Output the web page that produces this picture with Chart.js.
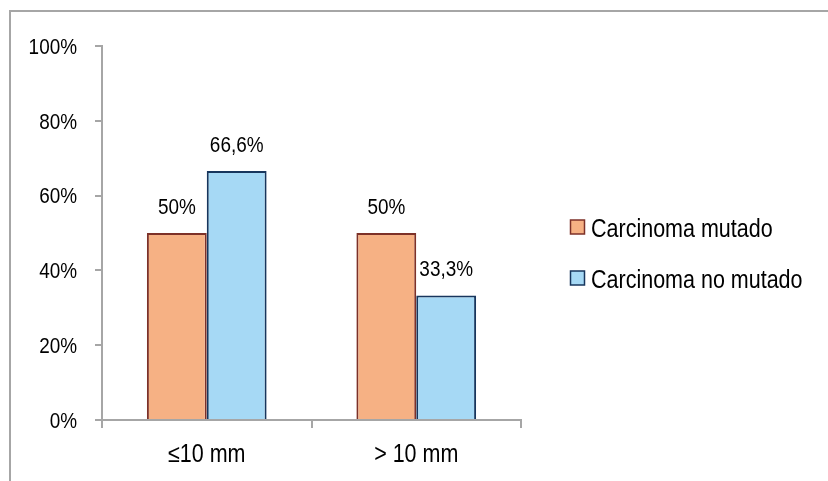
<!DOCTYPE html>
<html>
<head>
<meta charset="utf-8">
<script src="https://cdn.jsdelivr.net/npm/chart.js@4"></script>
<style>
  html, body { margin: 0; padding: 0; background: #fff; }
  #wrap { position: relative; width: 828px; height: 481px; overflow: hidden; }
  #frame { position: absolute; left: 9px; top: 10px; width: 900px; height: 600px;
           border-left: 2px solid #a6a6a6; border-top: 2px solid #a6a6a6; }
  canvas { position: absolute; left: 0; top: 0; }
</style>
</head>
<body>
<div id="wrap">
  <div id="frame"></div>
  <canvas id="myChart" width="828" height="481"></canvas>
</div>
<script>
  // datos del grafico
  const categorias = ['≤10 mm', '> 10 mm'];
  const mutado = [50, 50];
  const noMutado = [66.6, 33.3];
  const nombres = ['Carcinoma mutado', 'Carcinoma no mutado'];
  const yTicks = [0, 20, 40, 60, 80, 100];

  const fuente = "'Liberation Sans', Arial, sans-serif";
  const estrecho = 0.86; // la letra original es mas angosta

  function formato(v){
    return String(v).replace('.', ',') + '%';
  }

  // texto angosto (no hay Arial Narrow instalada)
  function texto(ctx, str, x, y, size, align){
    ctx.save();
    ctx.font = size + 'px ' + fuente;
    ctx.fillStyle = '#000';
    ctx.textAlign = align;
    ctx.textBaseline = 'alphabetic';
    ctx.translate(x, y);
    ctx.scale(estrecho, 1);
    ctx.fillText(str, 0, 0);
    ctx.restore();
  }

  // etiquetas de ejes, encima de las barras y leyenda
  const textos = {
    id: 'textos',
    afterDraw(chart){
      const ctx = chart.ctx;
      const sx = chart.scales.x;
      const sy = chart.scales.y;

      yTicks.forEach((v) => {
        texto(ctx, v + '%', 77, sy.getPixelForValue(v) + 0.358 * 22, 22, 'right');
      });
      categorias.forEach((c, i) => {
        texto(ctx, c, sx.getPixelForValue(i), 462, 25, 'center');
      });

      chart.data.datasets.forEach((ds, i) => {
        chart.getDatasetMeta(i).data.forEach((bar, j) => {
          texto(ctx, formato(ds.data[j]), bar.x, bar.y - 27 + 0.358 * 22, 22, 'center');
        });
      });

      chart.data.datasets.forEach((ds, i) => {
        const y = 227 + i * 51;
        ctx.save();
        ctx.fillStyle = ds.backgroundColor;
        ctx.fillRect(570.5, y - 7, 14, 14);
        ctx.strokeStyle = ds.borderColor;
        ctx.lineWidth = 1.5;
        ctx.strokeRect(570.5, y - 7, 14, 14);
        ctx.restore();
        texto(ctx, ds.label, 591, y + 1 + 0.358 * 25, 25, 'left');
      });
    }
  };

  const grafico = new Chart(document.getElementById('myChart'), {
    type: 'bar',
    data: {
      labels: categorias,
      datasets: [{
        label: nombres[0],
        data: mutado,
        backgroundColor: '#f6b184',
        borderColor: '#7d3128',
        borderWidth: 2,
        borderSkipped: 'bottom',
        categoryPercentage: 120 / 210,
        barPercentage: 1
      }, {
        label: nombres[1],
        data: noMutado,
        backgroundColor: '#a6d9f5',
        borderColor: '#17365d',
        borderWidth: 2,
        borderSkipped: 'bottom',
        categoryPercentage: 120 / 210,
        barPercentage: 1
      }]
    },
    options: {
      responsive: false,
      animation: false,
      layout: { padding: { left: 0, top: 46, right: 307, bottom: 0 } },
      plugins: { legend: { display: false }, tooltip: { enabled: false } },
      scales: {
        x: {
          afterFit: (s) => { s.height = 61; },
          grid: { drawOnChartArea: false, color: '#a6a6a6', lineWidth: 2, tickLength: 8 },
          border: { color: '#a6a6a6', width: 2 },
          ticks: { display: false }
        },
        y: {
          min: 0, max: 100,
          afterFit: (s) => { s.width = 102; },
          afterBuildTicks: (s) => { s.ticks = yTicks.map((v) => ({ value: v })); },
          grid: { drawOnChartArea: false, color: '#a6a6a6', lineWidth: 2, tickLength: 7 },
          border: { color: '#a6a6a6', width: 2 },
          ticks: { display: false }
        }
      }
    },
    plugins: [textos]
  });
</script>
</body>
</html>
